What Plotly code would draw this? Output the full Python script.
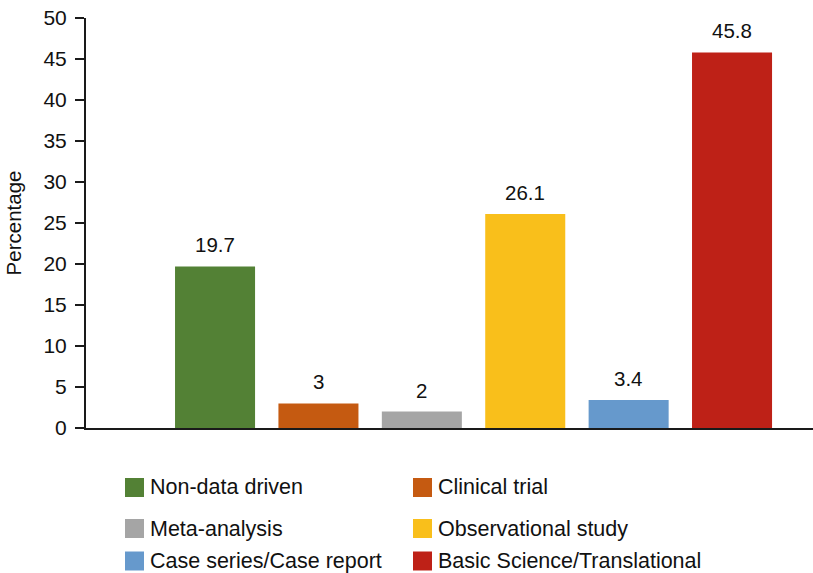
import plotly.graph_objects as go

# Study-type breakdown (percent of publications)
categories = ["Non-data driven", "Clinical trial", "Meta-analysis",
              "Observational study", "Case series/Case report",
              "Basic Science/Translational"]
values = [19.7, 3, 2, 26.1, 3.4, 45.8]
value_labels = ["19.7", "3", "2", "26.1", "3.4", "45.8"]
colors = ["#538135", "#c55a11", "#a5a5a5", "#f9bf1b", "#6699cc", "#be2117"]
y_ticks = [0, 5, 10, 15, 20, 25, 30, 35, 40, 45, 50]

W, H = 813, 573
FONT = "Liberation Sans, Arial, Helvetica, sans-serif"

fig = go.Figure()
fig.add_trace(go.Bar(
    x=categories, y=values,
    marker=dict(color=colors, line=dict(width=0)),
    width=0.774, showlegend=False, hoverinfo="x+y",
))

# value labels above each bar
annotations = []
for c, v, t in zip(categories, values, value_labels):
    annotations.append(dict(
        x=c, y=v, xref="x", yref="y", text=t, showarrow=False,
        yanchor="bottom", yshift=8, font=dict(size=20.5, color="#111111", family=FONT),
    ))

# two-column legend below the plot
shapes = []
legend_cols_px = [125, 413]
legend_rows_px = [487.5, 528.5, 561]
sw = 19
for i, (name, col) in enumerate(zip(categories, colors)):
    cx = legend_cols_px[i % 2]
    cy = legend_rows_px[i // 2]
    shapes.append(dict(
        type="rect", xref="paper", yref="paper",
        x0=(cx - 86) / (W - 86), x1=(cx + sw - 86) / (W - 86),
        y0=(428 - (cy + sw / 2)) / 410, y1=(428 - (cy - sw / 2)) / 410,
        fillcolor=col, line=dict(width=0),
    ))
    annotations.append(dict(
        x=(cx + sw + 4 - 86) / (W - 86), y=(428 - cy) / 410,
        xref="paper", yref="paper", xanchor="left", yanchor="middle",
        text=name, showarrow=False,
        font=dict(size=21.5, color="#111111", family=FONT),
    ))

fig.update_layout(
    width=W, height=H,
    margin=dict(l=86, r=0, t=18, b=145),
    paper_bgcolor="white", plot_bgcolor="white",
    font=dict(family=FONT, size=20, color="#111111"),
    shapes=shapes, annotations=annotations,
    xaxis=dict(
        range=[-1.248, 5.783], showticklabels=False, ticks="",
        showline=True, linecolor="#1a1a1a", linewidth=2,
        showgrid=False, zeroline=False, fixedrange=True,
    ),
    yaxis=dict(
        range=[0, 50], tickvals=y_ticks, ticks="outside", ticklen=9,
        tickwidth=1.5, tickcolor="#1a1a1a", ticklabelstandoff=4,
        showline=True, linecolor="#1a1a1a", linewidth=2,
        showgrid=False, zeroline=False,
        tickfont=dict(size=21, color="#111111"),
        title=dict(text="Percentage", font=dict(size=20.5, color="#111111"), standoff=16),
    ),
)

fig.write_html("out.html")
